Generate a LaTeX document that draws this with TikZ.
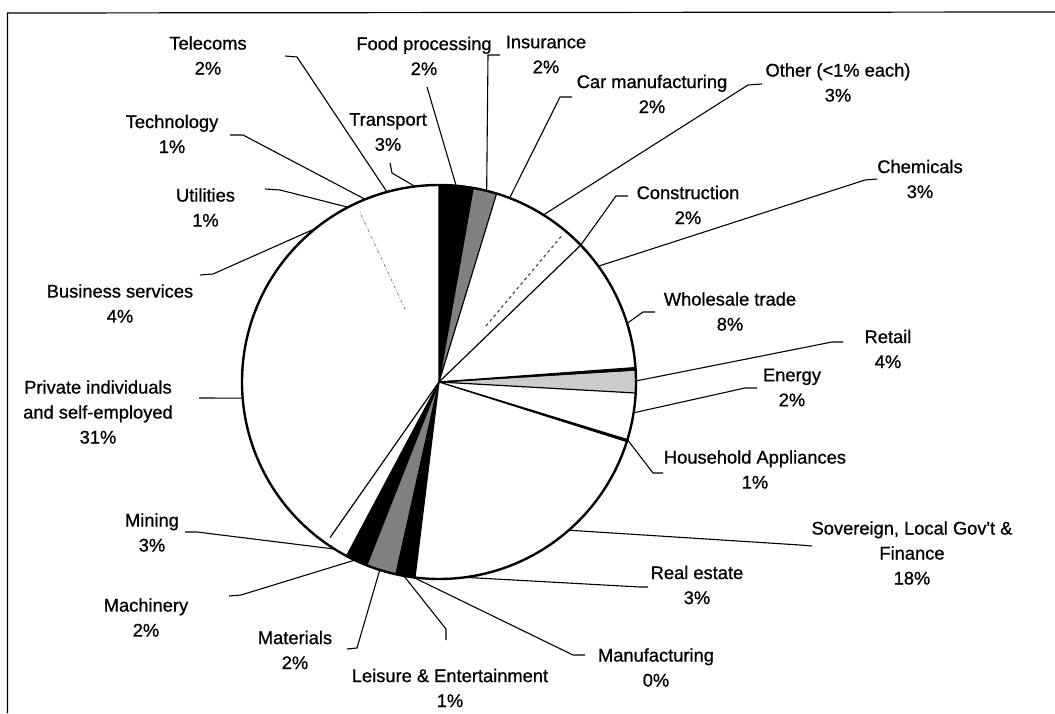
\documentclass[tikz,border=0pt]{standalone}
\usepackage{fontspec}
\setmainfont{Liberation Sans}
\newfontfamily\lblfont[FakeBold=0.8]{Liberation Sans}
\usetikzlibrary{calc}
\tikzset{
  lbl/.style={align=center, inner sep=0pt, font=\lblfont\fontsize{18.3}{25}\selectfont},
  leader/.style={line width=1.1pt},
  rim/.style={line width=2.4pt},
  edgeline/.style={line width=1.2pt},
}
\def\rad{197}

\begin{document}
\begin{tikzpicture}[x=1pt,y=1pt]
  \useasboundingbox (0,0) rectangle (1055,713);
  \draw[line width=1.2pt] (7.5,0) -- (7.5,700) -- (1055,701);
  \coordinate (c) at (439,331);
  % 扇形: 黑色与灰色
  \filldraw[fill=black, edgeline] (c) -- ++(80:\rad)
    arc[start angle=80, end angle=90, radius=\rad] -- cycle;
  \filldraw[fill=black!50, edgeline] (c) -- ++(73:\rad)
    arc[start angle=73, end angle=80, radius=\rad] -- cycle;
  \filldraw[fill=black!20, edgeline] (c) -- ++(-3.2:\rad)
    arc[start angle=-3.2, end angle=3.5, radius=\rad] -- cycle;
  \filldraw[fill=black, edgeline] (c) -- ++(3.5:\rad)
    arc[start angle=3.5, end angle=4.2, radius=\rad] -- cycle;
  \filldraw[fill=black, edgeline] (c) -- ++(-17.6:\rad)
    arc[start angle=-17.6, end angle=-17, radius=\rad] -- cycle;
  \filldraw[fill=black, edgeline] (c) -- ++(242:\rad)
    arc[start angle=242, end angle=248.5, radius=\rad] -- cycle;
  \filldraw[fill=black!50, edgeline] (c) -- ++(248.5:\rad)
    arc[start angle=248.5, end angle=257.4, radius=\rad] -- cycle;
  \filldraw[fill=black, edgeline] (c) -- ++(257.4:\rad)
    arc[start angle=257.4, end angle=263, radius=\rad] -- cycle;
  % 白色扇形的边
  \draw[edgeline] (c) -- ++(44:\rad);
  \draw[edgeline] (c) -- ++(235:190);
  \draw[edgeline, black!70, dashed] ([shift={(50:73)}]c) -- ([shift={(50:190)}]c);
  \draw[line width=0.8pt, gray, dash dot] ([shift={(115:80)}]c) -- ([shift={(115:188)}]c);
  \draw[rim] (c) circle[radius=\rad];

  % 标签
  \node[lbl] (tel)    at (208,657.5) {Telecoms\\2\%};
  \node[lbl] (food)   at (424,657)   {Food processing\\2\%};
  \node[lbl] (ins)    at (546,658.5) {Insurance\\2\%};
  \node[lbl] (car)    at (652,619)   {Car manufacturing\\2\%};
  \node[lbl] (oth)    at (838,630.5) {Other (<1\% each)\\3\%};
  \node[lbl] (trans)  at (388,581)   {Transport\\3\%};
  \node[lbl] (tech)   at (172,579)   {Technology\\1\%};
  \node[lbl] (util)   at (205.5,505.5) {Utilities\\1\%};
  \node[lbl] (chem)   at (920,534)   {Chemicals\\3\%};
  \node[lbl] (cons)   at (688,508)   {Construction\\2\%};
  \node[lbl] (bus)    at (120,409.5) {Business services\\4\%};
  \node[lbl] (whole)  at (730,401.5) {Wholesale trade\\8\%};
  \node[lbl] (retail) at (888,364)   {Retail\\4\%};
  \node[lbl] (energy) at (792,325.5) {Energy\\2\%};
  \node[lbl] (priv)   at (98,301)    {Private individuals\\and self-employed\\31\%};
  \node[lbl] (house)  at (755,243.5) {Household Appliances\\1\%};
  \node[lbl] (sov)    at (912,160)   {Sovereign, Local Gov't \&\\Finance\\18\%};
  \node[lbl] (mining) at (152,180.5) {Mining\\3\%};
  \node[lbl] (real)   at (697,128)   {Real estate\\3\%};
  \node[lbl] (mach)   at (146,95.5)  {Machinery\\2\%};
  \node[lbl] (mat)    at (295,63)    {Materials\\2\%};
  \node[lbl] (manu)   at (656,45.5)  {Manufacturing\\0\%};
  \node[lbl] (leis)   at (450,25)    {Leisure \& Entertainment\\1\%};

  % 引线
  \coordinate (eTel)    at (285,657);
  \coordinate (eTech)   at (230,578);
  \coordinate (eUtil)   at (265,524);
  \coordinate (eBus)    at (200,438);
  \coordinate (ePriv)   at (199,315);
  \coordinate (eMining) at (185,181);
  \coordinate (eMach)   at (229,117);
  \coordinate (eMat)    at (347,64);
  \coordinate (eLeis)   at (446,73);
  \coordinate (eManu)   at (585,58);
  \coordinate (eReal)   at (648,126);
  \coordinate (eSov)    at (812,167);
  \coordinate (eHouse)  at (663,240);
  \coordinate (eEnergy) at (757,325);
  \coordinate (eRetail) at (843,371);
  \coordinate (eWhole)  at (655,401);
  \coordinate (eChem)   at (877,534);
  \coordinate (eCons)   at (628,517);
  \coordinate (eOth)    at (762,629);
  \coordinate (eCar)    at (572,616);
  \coordinate (eIns)    at (500,658);
  \coordinate (eFood)   at (427,626);
  \coordinate (eTrans)  at (390,550);

  \draw[leader] ([shift={(105.3:\rad)}]c) -- (297,656) -- (eTel);
  \draw[leader] ([shift={(112:\rad)}]c) -- (243,578) -- (eTech);
  \draw[leader] ([shift={(117.5:\rad)}]c) -- (280,523) -- (eUtil);
  \draw[leader] ([shift={(128.8:\rad)}]c) -- (213,439) -- (eBus);
  \draw[leader] ([shift={(184.7:\rad)}]c) -- (ePriv);
  \draw[leader] ([shift={(238:\rad)}]c) -- (197,181) -- (eMining);
  \draw[leader] ([shift={(244.7:\rad)}]c) -- (241,118) -- (eMach);
  \draw[leader] ([shift={(252.5:\rad)}]c) -- (357,65) -- (eMat);
  \draw[leader] ([shift={(259.7:\rad)}]c) -- (446,84) -- (eLeis);
  \draw[leader] ([shift={(262.5:\rad)}]c) -- (573,58) -- (eManu);
  \draw[leader] ([shift={(277.5:\rad)}]c) -- (640,126) -- (eReal);
  \draw[leader] ([shift={(-48.8:\rad)}]c) -- (800,168) -- (eSov);
  \draw[leader] ([shift={(-17:\rad)}]c) -- (653,240) -- (eHouse);
  \draw[leader] ([shift={(-9:\rad)}]c) -- (745,325) -- (eEnergy);
  \draw[leader] ([shift={(0.3:\rad)}]c) -- (832,371) -- (eRetail);
  \draw[leader] ([shift={(17.3:\rad)}]c) -- (643,401) -- (eWhole);
  \draw[leader] ([shift={(36:\rad)}]c) -- (865,533) -- (eChem);
  \draw[leader] ([shift={(44:\rad)}]c) -- (616,517) -- (eCons);
  \draw[leader] ([shift={(58:\rad)}]c) -- (748,628) -- (eOth);
  \draw[leader] ([shift={(69:\rad)}]c) -- (560,616) -- (eCar);
  \draw[leader] ([shift={(76:\rad)}]c) -- (488,658) -- (eIns);
  \draw[leader] ([shift={(85:\rad)}]c) -- (eFood);
  \draw[leader] ([shift={(97:\rad)}]c) -- (392,540) -- (eTrans);
\end{tikzpicture}
\end{document}
